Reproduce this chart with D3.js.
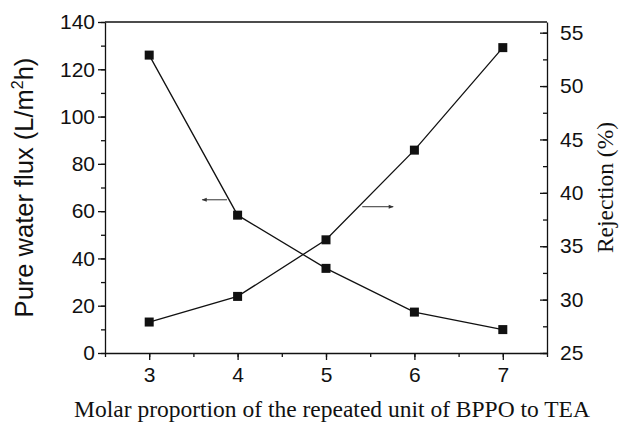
<!DOCTYPE html>
<html>
<head>
<meta charset="utf-8">
<script src="https://cdn.jsdelivr.net/npm/d3@7"></script>
<style>
  body { margin: 0; background: #fff; }
  .tick text { font-family: "Liberation Sans", Arial, sans-serif; font-size: 21px; fill: #111; }
  .domain, .tick line { stroke: #111; stroke-width: 1.3px; }
</style>
</head>
<body>
<div id="chart"></div>
<script>
// Data
const ratio = [3, 4, 5, 6, 7];
const flux = [126, 58.3, 35.8, 17.3, 9.9];        // L/m2h, left axis
const rejection = [27.9, 30.3, 35.6, 44.0, 53.6]; // %, right axis

const xTicks = [3, 4, 5, 6, 7];
const fluxTicks = [0, 20, 40, 60, 80, 100, 120, 140];
const rejTicks = [25, 30, 35, 40, 45, 50, 55];

const W = 619, H = 431;
const margin = { top: 22, right: 72, bottom: 78, left: 105 },
      width = W - margin.left - margin.right,
      height = H - margin.top - margin.bottom;

const svg = d3.select("#chart")
  .append("svg")
  .attr("width", W)
  .attr("height", H);

const g = svg.append("g")
  .attr("transform", `translate(${margin.left},${margin.top})`);

// scales
const x = d3.scaleLinear().domain([2.5, 7.5]).range([0, width]);
const yL = d3.scaleLinear().domain([0, 140]).range([height, 0]);
const yR = d3.scaleLinear().domain([25, 56]).range([height, 0]);

// top border
g.append("line")
  .attr("x1", 0).attr("x2", width)
  .attr("y1", 0).attr("y2", 0)
  .attr("stroke", "#111").attr("stroke-width", 1.3);

// minor ticks
g.append("g")
  .attr("transform", `translate(0,${height})`)
  .call(d3.axisBottom(x).tickValues(d3.range(2.5, 7.51, 0.5)).tickSize(4).tickFormat(""))
  .select(".domain").remove();
g.append("g")
  .call(d3.axisLeft(yL).tickValues(d3.range(0, 141, 10)).tickSize(4).tickFormat(""))
  .select(".domain").remove();
g.append("g")
  .attr("transform", `translate(${width},0)`)
  .call(d3.axisLeft(yR).tickValues(d3.range(25, 55.1, 2.5)).tickSize(4).tickFormat(""))
  .select(".domain").remove();

// main axes
g.append("g")
  .attr("transform", `translate(0,${height})`)
  .call(d3.axisBottom(x).tickValues(xTicks).tickSize(7).tickSizeOuter(0).tickPadding(7).tickFormat(d3.format("d")));

g.append("g")
  .call(d3.axisLeft(yL).tickValues(fluxTicks).tickSize(7).tickSizeOuter(0).tickPadding(3));

const right = g.append("g")
  .attr("transform", `translate(${width},0)`)
  .call(d3.axisRight(yR).tickValues(rejTicks).tickSizeOuter(0).tickSizeInner(0).tickPadding(13));
right.selectAll(".tick line").attr("x2", -7);

// lines
const lineL = d3.line().x((d, i) => x(ratio[i])).y(d => yL(d));
const lineR = d3.line().x((d, i) => x(ratio[i])).y(d => yR(d));

g.append("path").datum(flux)
  .attr("d", lineL).attr("fill", "none")
  .attr("stroke", "#111").attr("stroke-width", 1.3);
g.append("path").datum(rejection)
  .attr("d", lineR).attr("fill", "none")
  .attr("stroke", "#111").attr("stroke-width", 1.3);

// markers
const s = 9;
g.selectAll(".mL").data(flux).enter().append("rect")
  .attr("x", (d, i) => x(ratio[i]) - s / 2)
  .attr("y", d => yL(d) - s / 2)
  .attr("width", s).attr("height", s).attr("fill", "#111");
g.selectAll(".mR").data(rejection).enter().append("rect")
  .attr("x", (d, i) => x(ratio[i]) - s / 2)
  .attr("y", d => yR(d) - s / 2)
  .attr("width", s).attr("height", s).attr("fill", "#111");

// arrows pointing to the axes
const defs = svg.append("defs");
defs.append("marker")
  .attr("id", "ah").attr("viewBox", "0 0 10 10")
  .attr("refX", 9).attr("refY", 5)
  .attr("markerWidth", 7).attr("markerHeight", 5)
  .attr("orient", "auto-start-reverse")
  .append("path").attr("d", "M0,1 L10,5 L0,9 Z").attr("fill", "#333");

g.append("line")
  .attr("x1", x(3.88)).attr("x2", x(3.6))
  .attr("y1", yL(64.8)).attr("y2", yL(64.8))
  .attr("stroke", "#333").attr("stroke-width", 1)
  .attr("marker-end", "url(#ah)");
g.append("line")
  .attr("x1", x(5.41)).attr("x2", x(5.76))
  .attr("y1", yR(38.7)).attr("y2", yR(38.7))
  .attr("stroke", "#333").attr("stroke-width", 1)
  .attr("marker-end", "url(#ah)");

// axis titles
const leftTitle = svg.append("text")
  .attr("transform", `translate(33,${margin.top + height / 2}) rotate(-90)`)
  .attr("text-anchor", "middle")
  .style("font-family", "'Liberation Sans', Arial, sans-serif")
  .style("font-size", "25.5px")
  .attr("fill", "#111");
leftTitle.append("tspan").text("Pure water flux (L/m");
leftTitle.append("tspan").text("2").style("font-size", "16px").attr("dy", -10);
leftTitle.append("tspan").text("h)").attr("dy", 10);

svg.append("text")
  .attr("transform", `translate(613,${margin.top + height / 2}) rotate(-90)`)
  .attr("text-anchor", "middle")
  .style("font-family", "'Liberation Serif', 'Times New Roman', serif")
  .style("font-size", "23.5px")
  .attr("fill", "#111")
  .text("Rejection (%)");

svg.append("text")
  .attr("x", 332)
  .attr("y", 417)
  .attr("text-anchor", "middle")
  .style("font-family", "'Liberation Serif', 'Times New Roman', serif")
  .style("font-size", "23.5px")
  .attr("fill", "#111")
  .text("Molar proportion of the repeated unit of BPPO to TEA");
</script>
</body>
</html>
